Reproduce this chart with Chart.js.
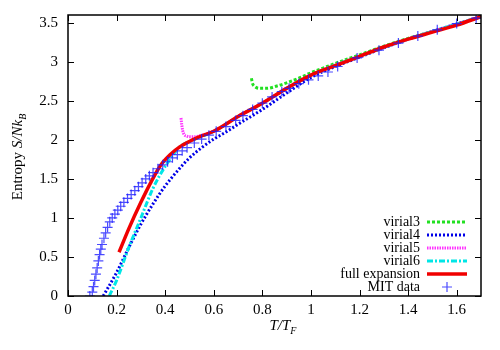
<!DOCTYPE html>
<html>
<head>
<meta charset="utf-8">
<script src="https://cdn.jsdelivr.net/npm/chart.js@4"></script>
<style>
  html, body { margin: 0; padding: 0; background: #fff; }
  #wrap { width: 500px; height: 350px; }
</style>
</head>
<body>
<div id="wrap"><canvas id="entropyChart" width="500" height="350"></canvas></div>
<script>
// tick labels
const xTicks = [0, 0.2, 0.4, 0.6, 0.8, 1, 1.2, 1.4, 1.6];
const yTicks = [0, 0.5, 1, 1.5, 2, 2.5, 3, 3.5];

// virial3
const v3T = [0.755, 0.76, 0.77, 0.79, 0.82, 0.86, 0.9, 0.95, 1.0, 1.05, 1.1, 1.2, 1.3, 1.4, 1.5, 1.6, 1.7];
const v3S = [2.79, 2.72, 2.68, 2.66, 2.66, 2.69, 2.73, 2.79, 2.86, 2.92, 2.98, 3.09, 3.2, 3.3, 3.39, 3.48, 3.58];

// virial4
const v4T = [0.145, 0.2, 0.25, 0.3, 0.35, 0.4, 0.45, 0.5, 0.55, 0.6, 0.65, 0.7, 0.8, 0.9, 1.0, 1.2, 1.4, 1.7];
const v4S = [0, 0.3, 0.62, 0.92, 1.18, 1.41, 1.6, 1.77, 1.9, 2.01, 2.1, 2.2, 2.39, 2.6, 2.8, 3.06, 3.29, 3.58];

// virial5
const v5T = [0.465, 0.468, 0.472, 0.478, 0.488, 0.5, 0.52, 0.55, 0.6, 0.7, 0.8, 0.9, 1.0, 1.2, 1.4, 1.7];
const v5S = [2.28, 2.2, 2.12, 2.07, 2.05, 2.04, 2.04, 2.06, 2.11, 2.3, 2.47, 2.66, 2.83, 3.07, 3.29, 3.58];

// virial6
const v6T = [0.17, 0.2, 0.25, 0.3, 0.35, 0.4, 0.46, 0.5, 0.6, 0.7, 0.8, 0.9, 1.0, 1.2, 1.4, 1.7];
const v6S = [0, 0.2, 0.62, 1.0, 1.38, 1.66, 1.91, 1.98, 2.11, 2.3, 2.47, 2.66, 2.83, 3.07, 3.29, 3.58];

// full expansion
const fullT = [0.21, 0.25, 0.3, 0.34, 0.38, 0.42, 0.46, 0.5, 0.55, 0.6, 0.7, 0.8, 0.9, 1.0, 1.1, 1.2, 1.3, 1.4, 1.5, 1.6, 1.7];
const fullS = [0.56, 0.86, 1.2, 1.45, 1.67, 1.81, 1.91, 1.98, 2.05, 2.11, 2.3, 2.47, 2.66, 2.83, 2.95, 3.07, 3.19, 3.29, 3.38, 3.47, 3.58];

// MIT data
const mitT = [0.09, 0.1, 0.105, 0.11, 0.115, 0.12, 0.125, 0.13, 0.135, 0.14, 0.148, 0.155, 0.163, 0.172, 0.182, 0.193, 0.205, 0.217, 0.23, 0.245, 0.26, 0.275, 0.29, 0.305, 0.32, 0.335, 0.35, 0.37, 0.39, 0.41, 0.43, 0.45, 0.47, 0.49, 0.52, 0.55, 0.58, 0.61, 0.65, 0.69, 0.72, 0.76, 0.8, 0.84, 0.88, 0.91, 0.95, 0.99, 1.03, 1.07, 1.11, 1.19, 1.28, 1.36, 1.44, 1.52, 1.6, 1.68];
const mitS = [0.0, 0.05, 0.12, 0.2, 0.28, 0.36, 0.45, 0.53, 0.6, 0.66, 0.74, 0.81, 0.88, 0.95, 1.0, 1.05, 1.1, 1.15, 1.2, 1.25, 1.3, 1.35, 1.4, 1.45, 1.5, 1.54, 1.58, 1.63, 1.68, 1.72, 1.77, 1.81, 1.86, 1.9, 1.96, 2.01, 2.06, 2.11, 2.17, 2.25, 2.31, 2.39, 2.47, 2.55, 2.62, 2.66, 2.72, 2.77, 2.82, 2.87, 2.94, 3.05, 3.15, 3.24, 3.33, 3.41, 3.49, 3.56];

const pts = (xs, ys) => xs.map((x, i) => ({ x: x, y: ys[i] }));
const serif = '"Liberation Serif", "DejaVu Serif", serif';
Chart.defaults.font.family = serif;
Chart.defaults.color = '#000';

function curve(label, xs, ys, color, dash, width, order) {
    return {
        label: label,
        data: pts(xs, ys),
        showLine: true,
        borderColor: color,
        backgroundColor: color,
        borderDash: dash,
        borderWidth: width,
        pointRadius: 0,
        pointHoverRadius: 0,
        cubicInterpolationMode: 'monotone',
        order: order
    };
}

// frame, inward ticks, tick labels, legend and axis titles (gnuplot look)
const decorPlugin = {
    id: 'decor',
    afterDatasetsDraw(chart) {
        const ctx = chart.ctx;
        const a = chart.chartArea;
        const xs = chart.scales.x, ys = chart.scales.y;
        ctx.save();
        ctx.strokeStyle = '#000';
        ctx.lineWidth = 1.5;
        ctx.strokeRect(a.left, a.top, a.right - a.left, a.bottom - a.top);
        ctx.lineWidth = 1;
        ctx.beginPath();
        xTicks.forEach(v => {
            const px = Math.round(xs.getPixelForValue(v)) + 0.5;
            ctx.moveTo(px, a.bottom); ctx.lineTo(px, a.bottom - 6);
            ctx.moveTo(px, a.top); ctx.lineTo(px, a.top + 6);
        });
        yTicks.forEach(v => {
            const py = Math.round(ys.getPixelForValue(v)) + 0.5;
            ctx.moveTo(a.left, py); ctx.lineTo(a.left + 6, py);
            ctx.moveTo(a.right, py); ctx.lineTo(a.right - 6, py);
        });
        ctx.stroke();

        // tick labels
        ctx.fillStyle = '#000';
        ctx.font = '15px ' + serif;
        ctx.textAlign = 'center';
        ctx.textBaseline = 'middle';
        xTicks.forEach(v => {
            ctx.fillText(String(v), xs.getPixelForValue(v), a.bottom + 14);
        });
        ctx.textAlign = 'right';
        yTicks.forEach(v => {
            ctx.fillText(String(v), a.left - 10, ys.getPixelForValue(v));
        });

        // legend
        ctx.font = '14px ' + serif;
        ctx.textAlign = 'right';
        ctx.textBaseline = 'middle';
        chart.data.datasets.forEach((ds, i) => {
            const y = 222 + 13 * i;
            ctx.fillStyle = '#000';
            ctx.fillText(ds.label, 420, y);
            ctx.strokeStyle = ds.borderColor;
            if (ds.showLine) {
                ctx.lineWidth = ds.borderWidth;
                ctx.setLineDash(ds.borderDash || []);
                ctx.beginPath();
                ctx.moveTo(427, y); ctx.lineTo(467, y);
                ctx.stroke();
                ctx.setLineDash([]);
            } else {
                ctx.lineWidth = 1.2;
                ctx.beginPath();
                ctx.moveTo(442, y); ctx.lineTo(452, y);
                ctx.moveTo(447, y - 5); ctx.lineTo(447, y + 5);
                ctx.stroke();
            }
        });

        // x title: T/T_F
        ctx.fillStyle = '#000';
        ctx.textAlign = 'left';
        ctx.textBaseline = 'alphabetic';
        const main = 'T/T';
        ctx.font = 'italic 15px ' + serif;
        const mw = ctx.measureText(main).width;
        ctx.font = 'italic 10px ' + serif;
        const sw = ctx.measureText('F').width;
        let x0 = 283 - (mw + sw) / 2;
        ctx.font = 'italic 15px ' + serif;
        ctx.fillText(main, x0, 330);
        ctx.font = 'italic 10px ' + serif;
        ctx.fillText('F', x0 + mw, 334);

        // y title: Entropy S/Nk_B
        ctx.translate(22, 157);
        ctx.rotate(-Math.PI / 2);
        ctx.font = '15px ' + serif;
        const w1 = ctx.measureText('Entropy ').width;
        ctx.font = 'italic 15px ' + serif;
        const w2 = ctx.measureText('S/Nk').width;
        ctx.font = 'italic 10px ' + serif;
        const w3 = ctx.measureText('B').width;
        let s = -(w1 + w2 + w3) / 2;
        ctx.font = '15px ' + serif;
        ctx.fillText('Entropy ', s, 0);
        ctx.font = 'italic 15px ' + serif;
        ctx.fillText('S/Nk', s + w1, 0);
        ctx.font = 'italic 10px ' + serif;
        ctx.fillText('B', s + w1 + w2, 4);
        ctx.restore();
    }
};

const ctx = document.getElementById('entropyChart').getContext('2d');
const entropyChart = new Chart(ctx, {
    type: 'scatter',
    data: {
        datasets: [
            curve('virial3', v3T, v3S, '#22e022', [3, 2], 3, 5),
            curve('virial4', v4T, v4S, '#0000e8', [2, 2], 3, 4),
            curve('virial5', v5T, v5S, '#ff33ff', [1.5, 1], 3, 3),
            curve('virial6', v6T, v6S, '#00e6e6', [6, 2, 2, 2], 3, 2),
            curve('full expansion', fullT, fullS, '#f00000', [], 3.5, 1),
            {
                label: 'MIT data',
                data: pts(mitT, mitS),
                showLine: false,
                pointStyle: 'cross',
                pointRadius: 5,
                pointHoverRadius: 5,
                borderWidth: 1.2,
                borderColor: 'rgba(30,30,255,0.8)',
                backgroundColor: 'rgba(30,30,255,0.8)',
                order: 0
            }
        ]
    },
    options: {
        responsive: false,
        animation: false,
        events: [],
        layout: { padding: { top: 15, right: 19, left: 0, bottom: 0 } },
        plugins: {
            legend: { display: false },
            tooltip: { enabled: false }
        },
        scales: {
            x: {
                type: 'linear',
                min: 0,
                max: 1.7,
                afterBuildTicks: scale => { scale.ticks = xTicks.map(v => ({ value: v })); },
                afterFit: scale => { scale.height = 54; },
                grid: { display: false, drawTicks: false },
                border: { display: false },
                ticks: { display: false }
            },
            y: {
                type: 'linear',
                min: 0,
                max: 3.6,
                afterBuildTicks: scale => { scale.ticks = yTicks.map(v => ({ value: v })); },
                afterFit: scale => { scale.width = 68; },
                grid: { display: false, drawTicks: false },
                border: { display: false },
                ticks: { display: false }
            }
        }
    },
    plugins: [decorPlugin]
});
</script>
</body>
</html>
